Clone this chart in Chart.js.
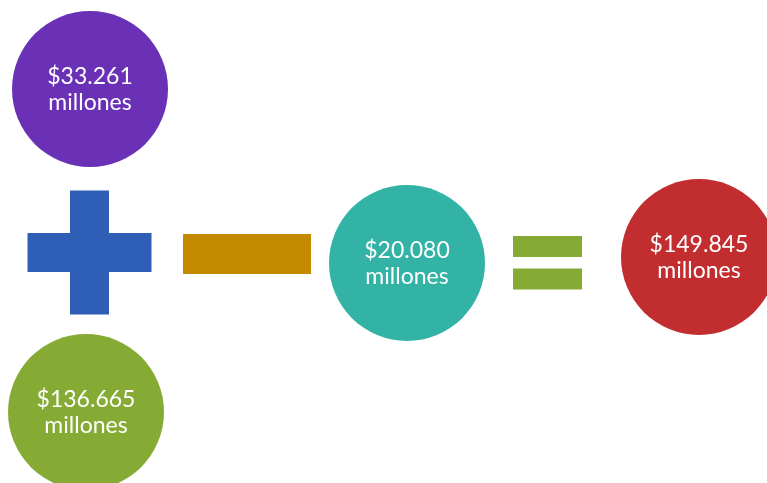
<!DOCTYPE html>
<html>
<head>
<meta charset="utf-8">
<script src="https://cdn.jsdelivr.net/npm/chart.js@4/dist/chart.umd.min.js"></script>
<style>
  html, body { margin: 0; padding: 0; background: #ffffff; }
  #c { display: block; }
</style>
</head>
<body>
<canvas id="c" width="767" height="483"></canvas>
<script>
// ---- data ----
const amounts = [33261, 136665, 20080, 149845];
const unitLabel = 'millones';
const operators = ['+', '-', '='];

// ---- styles / layout (pixel-space scale 0..767, 0..483) ----
const circleColors = ['#6A30B5', '#86AB34', '#33B3A6', '#C22E30'];
const circlePos = [[90, 89], [86, 412], [407, 263], [699, 257]];
const circleR = 78;
const opColors = { '+': '#2F5EB6', '-': '#C48A00', '=': '#86AB34' };

function fmt(v) {
  return '$' + String(v).replace(/\B(?=(\d{3})+(?!\d))/g, '.');
}

const circleDatasets = amounts.map((v, i) => ({
  type: 'bubble',
  label: fmt(v),
  data: [{ x: circlePos[i][0], y: circlePos[i][1], r: circleR }],
  backgroundColor: circleColors[i],
  borderWidth: 0,
  hoverBorderWidth: 0
}));

const opDatasets = [
  { type: 'bubble', label: operators[0],
    data: [{ x: 89.5, y: 252.5, r: 62 }],
    pointStyle: 'cross', borderColor: opColors['+'], backgroundColor: opColors['+'], borderWidth: 39 },
  { type: 'bubble', label: operators[1],
    data: [{ x: 247, y: 254, r: 64 }],
    pointStyle: 'line', borderColor: opColors['-'], backgroundColor: opColors['-'], borderWidth: 40 },
  { type: 'bubble', label: operators[2],
    data: [{ x: 547.5, y: 246.5, r: 34.5 }, { x: 547.5, y: 279, r: 34.5 }],
    pointStyle: 'line', borderColor: opColors['='], backgroundColor: opColors['='], borderWidth: 21 }
];

const textPlugin = {
  id: 'circleText',
  afterDatasetsDraw(chart) {
    const ctx = chart.ctx;
    ctx.save();
    ctx.fillStyle = '#ffffff';
    ctx.textAlign = 'center';
    ctx.textBaseline = 'alphabetic';
    ctx.font = '23px Lato, "Open Sans", sans-serif';
    amounts.forEach((v, i) => {
      const el = chart.getDatasetMeta(i).data[0];
      ctx.fillText(fmt(v), el.x, el.y - 5);
      ctx.fillText(unitLabel, el.x, el.y + 21);
    });
    ctx.restore();
  }
};

new Chart(document.getElementById('c'), {
  type: 'bubble',
  data: { datasets: [...circleDatasets, ...opDatasets] },
  options: {
    responsive: false,
    devicePixelRatio: 1,
    animation: false,
    layout: { padding: 0, autoPadding: false },
    clip: false,
    events: [],
    plugins: { legend: { display: false }, tooltip: { enabled: false } },
    scales: {
      x: { type: 'linear', min: 0, max: 767, display: false },
      y: { type: 'linear', min: 0, max: 483, reverse: true, display: false }
    }
  },
  plugins: [textPlugin]
});
</script>
</body>
</html>
